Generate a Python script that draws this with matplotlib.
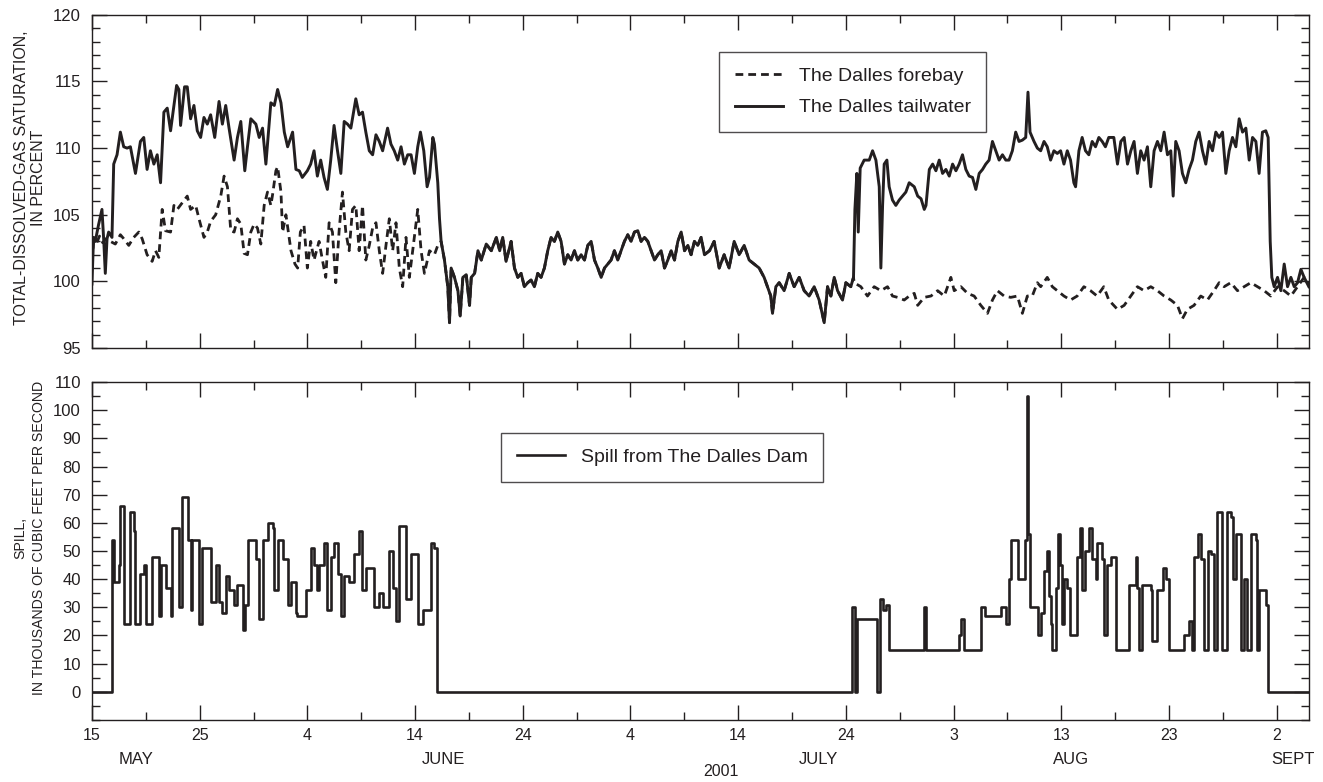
import matplotlib
matplotlib.use("Agg")
import matplotlib.pyplot as plt
import numpy as np

# time axis: days counted from 15 May 2001 00:00
# (day, percent) pairs
tailwater_early = [
    (0.0, 99.8), (0.15, 103.3), (0.31, 103.0), (0.6, 104.2), (0.93, 105.4), (1.1, 103.0), (1.24, 100.6),
    (1.4, 103.2), (1.55, 103.7), (1.86, 103.3), (2.02, 108.8), (2.33, 109.5), (2.64, 111.2), (2.95, 110.1),
    (3.26, 110.0), (3.57, 110.1), (4.04, 108.1), (4.5, 110.5), (4.81, 110.8), (5.12, 108.4), (5.43, 109.8),
    (5.75, 108.8), (6.06, 109.5), (6.37, 107.4), (6.68, 112.7), (6.99, 113.0), (7.3, 111.3), (7.86, 114.7),
    (8.07, 114.4), (8.23, 111.7), (8.6, 114.6), (8.85, 114.6), (9.16, 112.2), (9.47, 113.2), (9.78, 111.3),
    (10.09, 110.8), (10.4, 112.3), (10.71, 111.8), (11.02, 112.5), (11.4, 110.8), (11.8, 113.5), (12.11, 111.8),
    (12.42, 113.2), (12.73, 111.5), (13.2, 109.1), (13.51, 110.8), (13.82, 112.0), (14.19, 108.3), (14.44, 110.1),
    (14.75, 112.2), (15.22, 111.8), (15.53, 110.8), (15.84, 111.5), (16.15, 108.8), (16.61, 113.4), (16.93, 113.2),
    (17.24, 114.4), (17.55, 113.4), (17.86, 111.2), (18.17, 110.1), (18.63, 111.2), (18.94, 108.4), (19.25, 108.3),
    (19.53, 107.8), (20.0, 108.3), (20.31, 108.8), (20.62, 109.8), (20.93, 107.9), (21.24, 109.1), (21.55, 107.8),
    (21.86, 106.9), (22.17, 109.1), (22.48, 111.7), (22.8, 109.8), (23.11, 108.1), (23.42, 112.0), (23.73, 111.8),
    (24.04, 111.5), (24.5, 113.7), (24.81, 112.5), (25.12, 112.7), (25.43, 111.2), (25.75, 109.8), (26.06, 109.5),
    (26.37, 111.0), (26.68, 110.5), (26.99, 109.8), (27.45, 111.5), (27.76, 110.3), (28.07, 109.8), (28.39, 109.1),
    (28.7, 110.1), (29.01, 108.8), (29.32, 109.5), (29.63, 109.5), (29.94, 108.1), (30.25, 110.1), (30.5, 111.2),
    (30.81, 109.8), (31.12, 107.1), (31.34, 107.8), (31.65, 110.8), (31.8, 110.3), (32.11, 107.4), (32.27, 104.7),
]

# period where forebay and tailwater read the same
shared_mid = [
    (32.42, 103.0), (32.73, 101.6), (33.04, 99.6), (33.2, 96.9), (33.35, 101.0), (33.66, 100.3), (33.98, 99.3),
    (34.19, 97.4), (34.44, 100.3), (34.75, 100.5), (35.06, 98.2), (35.22, 100.3), (35.53, 100.6), (35.84, 102.3),
    (36.15, 101.6), (36.61, 102.8), (37.08, 102.3), (37.55, 103.3), (37.86, 102.3), (38.14, 103.3), (38.45, 101.5),
    (38.92, 103.0), (39.23, 101.0), (39.54, 100.3), (39.85, 100.6), (40.15, 99.6), (40.46, 99.9), (40.77, 100.1),
    (41.08, 99.6), (41.39, 100.6), (41.7, 100.3), (42.01, 101.0), (42.32, 102.3), (42.63, 103.3), (42.94, 103.0),
    (43.25, 103.7), (43.56, 103.0), (43.87, 101.3), (44.18, 102.0), (44.49, 101.6), (44.8, 102.3), (45.11, 101.6),
    (45.42, 102.0), (45.73, 101.6), (46.04, 102.7), (46.35, 103.0), (46.66, 101.6), (46.97, 101.0), (47.28, 100.3),
    (47.59, 101.0), (47.89, 101.3), (48.2, 101.6), (48.51, 102.3), (48.82, 101.6), (49.13, 102.3), (49.44, 103.0),
    (49.75, 103.5), (50.06, 103.0), (50.37, 103.7), (50.68, 103.8), (50.99, 103.0), (51.3, 103.3), (51.61, 103.0),
    (51.92, 102.3), (52.23, 101.6), (52.54, 102.0), (52.85, 102.3), (53.16, 101.0), (53.47, 101.6), (53.78, 102.3),
    (54.09, 101.6), (54.4, 103.0), (54.71, 103.7), (55.02, 102.3), (55.33, 102.7), (55.63, 102.0), (55.94, 103.0),
    (56.25, 102.7), (56.56, 103.3), (56.87, 102.0), (57.34, 102.3), (57.77, 103.0), (58.24, 101.0), (58.7, 102.0),
    (59.16, 101.0), (59.63, 103.0), (60.09, 102.0), (60.56, 102.7), (61.02, 101.6), (61.49, 101.3), (61.95, 101.0),
    (62.41, 100.3), (62.72, 99.6), (63.03, 98.9), (63.19, 97.6), (63.5, 99.6), (63.81, 99.9), (64.27, 99.3),
    (64.74, 100.6), (65.2, 99.6), (65.67, 100.3), (66.13, 99.3), (66.59, 98.9), (67.06, 99.6), (67.52, 98.6),
    (67.99, 96.9), (68.3, 99.6), (68.61, 98.9), (68.92, 100.3), (69.23, 99.3), (69.69, 98.6), (70.0, 99.9),
    (70.46, 99.6), (70.71, 100.3),
]

tailwater_late = [
    (70.84, 105.4), (71.02, 108.1), (71.15, 103.7), (71.33, 108.5), (71.7, 109.1), (72.17, 109.1), (72.48, 109.8),
    (72.79, 109.1), (73.1, 107.1), (73.25, 101.0), (73.41, 105.7), (73.56, 108.8), (73.81, 109.1), (74.02, 107.1),
    (74.33, 106.1), (74.64, 105.7), (74.95, 106.1), (75.26, 106.4), (75.57, 106.7), (75.88, 107.4), (76.35, 107.1),
    (76.67, 106.4), (76.98, 106.2), (77.28, 105.4), (77.44, 105.7), (77.75, 108.4), (78.06, 108.8), (78.36, 108.3),
    (78.67, 109.1), (78.98, 108.1), (79.29, 108.4), (79.6, 107.9), (79.91, 108.8), (80.22, 108.3), (80.52, 108.8),
    (80.83, 109.5), (81.14, 108.4), (81.45, 107.9), (81.76, 107.8), (82.07, 106.9), (82.38, 108.1), (82.69, 108.4),
    (82.99, 108.8), (83.3, 109.1), (83.61, 110.5), (83.92, 109.8), (84.23, 109.1), (84.54, 109.5), (84.85, 109.1),
    (85.15, 109.1), (85.46, 109.8), (85.77, 111.2), (86.08, 110.5), (86.39, 110.6), (86.7, 110.8), (86.91, 114.2),
    (87.1, 111.2), (87.47, 110.5), (87.78, 110.0), (88.09, 109.8), (88.4, 110.5), (88.7, 110.1), (89.01, 109.1),
    (89.32, 109.8), (89.63, 109.6), (89.94, 109.8), (90.25, 108.8), (90.56, 109.8), (90.86, 109.1), (91.17, 107.4),
    (91.33, 107.1), (91.64, 109.8), (91.94, 110.8), (92.25, 109.8), (92.56, 109.5), (92.87, 110.5), (93.18, 110.1),
    (93.49, 110.8), (93.8, 110.5), (94.1, 110.1), (94.41, 110.8), (94.88, 110.8), (95.22, 108.8), (95.53, 110.5),
    (95.84, 110.8), (96.15, 108.8), (96.46, 109.8), (96.76, 110.5), (97.07, 108.1), (97.38, 109.8), (97.69, 109.1),
    (98.0, 110.1), (98.31, 107.1), (98.62, 109.8), (98.93, 110.5), (99.24, 109.8), (99.55, 111.2), (99.86, 109.5),
    (100.17, 109.8), (100.39, 106.4), (100.63, 110.5), (100.94, 109.8), (101.25, 108.1), (101.56, 107.4),
    (101.87, 108.4), (102.18, 109.1), (102.49, 110.5), (102.8, 111.2), (103.11, 109.8), (103.42, 108.8),
    (103.73, 110.5), (104.04, 109.8), (104.35, 111.2), (104.66, 110.8), (104.97, 111.2), (105.28, 108.1),
    (105.59, 109.8), (105.9, 110.8), (106.21, 110.1), (106.52, 112.2), (106.83, 111.2), (107.14, 111.5),
    (107.45, 109.1), (107.76, 110.8), (108.07, 110.5), (108.37, 108.1), (108.68, 111.2), (108.99, 111.3),
    (109.21, 110.8), (109.4, 103.0), (109.55, 100.3), (109.77, 99.6), (110.08, 100.3), (110.39, 99.3),
    (110.7, 101.3), (111.01, 99.6), (111.32, 100.3), (111.63, 99.6), (111.94, 99.9), (112.25, 100.9),
    (112.55, 100.3), (112.99, 99.6),
]

forebay_early = [
    (0.0, 101.5), (0.15, 103.0), (0.4, 102.8), (0.7, 103.4), (1.0, 102.9), (1.3, 103.2), (1.71, 103.0),
    (2.17, 102.8), (2.64, 103.5), (2.95, 103.2), (3.42, 102.7), (3.88, 103.3), (4.35, 103.7), (4.66, 103.2),
    (5.12, 102.0), (5.59, 101.5), (5.9, 102.3), (6.21, 101.8), (6.52, 105.4), (6.83, 103.8), (7.3, 103.7),
    (7.61, 105.7), (7.92, 105.4), (8.39, 105.9), (8.85, 106.4), (9.16, 105.4), (9.63, 105.7), (9.94, 104.7),
    (10.4, 103.3), (10.71, 103.7), (11.02, 104.5), (11.49, 105.0), (11.96, 106.4), (12.27, 107.9), (12.58, 107.1),
    (12.89, 103.8), (13.2, 103.7), (13.51, 104.7), (13.82, 104.3), (14.13, 102.1), (14.44, 102.0), (14.75, 103.7),
    (15.06, 104.3), (15.37, 104.0), (15.68, 102.8), (15.99, 105.7), (16.3, 106.7), (16.61, 105.7), (16.77, 106.5),
    (17.08, 108.3), (17.24, 108.6), (17.55, 106.7), (17.7, 103.7), (18.01, 105.0), (18.48, 102.3), (18.85, 101.3),
    (19.1, 101.0), (19.35, 103.7), (19.69, 104.2), (20.0, 101.0), (20.31, 103.0), (20.62, 101.6), (21.09, 103.0),
    (21.4, 101.6), (21.71, 100.3), (22.02, 104.4), (22.33, 103.7), (22.64, 99.9), (22.95, 103.8), (23.26, 106.7),
    (23.57, 103.7), (23.88, 102.3), (24.19, 105.4), (24.5, 105.7), (24.81, 102.3), (25.12, 105.7), (25.43, 101.6),
    (25.75, 102.7), (26.06, 104.0), (26.37, 104.4), (26.68, 102.3), (26.99, 100.6), (27.3, 102.7), (27.61, 104.7),
    (27.92, 102.3), (28.23, 104.4), (28.54, 101.0), (28.85, 99.6), (29.16, 103.3), (29.47, 100.3), (29.78, 102.3),
    (30.25, 105.4), (30.56, 102.3), (30.87, 100.6), (31.34, 102.3), (31.8, 102.0), (32.11, 102.7),
]

forebay_late = [
    (70.77, 99.9), (71.39, 99.6), (72.01, 98.9), (72.63, 99.6), (73.25, 99.3), (73.87, 99.6), (74.33, 98.9),
    (74.8, 98.8), (75.42, 98.6), (75.88, 98.9), (76.35, 99.1), (76.67, 98.2), (77.28, 98.8), (77.9, 98.9),
    (78.52, 99.3), (79.14, 98.9), (79.75, 100.3), (80.06, 99.3), (80.68, 99.6), (81.3, 99.1), (81.91, 98.9),
    (82.53, 98.2), (83.15, 97.6), (83.61, 98.6), (84.07, 99.3), (84.69, 98.9), (85.31, 98.8), (85.93, 98.9),
    (86.39, 97.6), (86.85, 98.9), (87.31, 98.9), (87.78, 99.9), (88.09, 99.6), (88.7, 100.3), (89.17, 99.6),
    (89.63, 99.3), (90.25, 98.9), (90.86, 98.6), (91.48, 98.9), (92.1, 99.6), (92.72, 99.3), (93.33, 98.9),
    (93.95, 99.6), (94.41, 98.6), (95.22, 97.9), (95.84, 98.2), (96.46, 98.9), (97.07, 99.6), (97.69, 99.3),
    (98.31, 99.6), (98.93, 99.3), (99.55, 98.9), (100.17, 98.6), (100.79, 98.2), (101.25, 97.2), (101.71, 97.9),
    (102.33, 98.2), (102.95, 98.9), (103.57, 98.6), (104.18, 99.3), (104.66, 99.9), (105.12, 99.6), (105.74, 99.9),
    (106.36, 99.3), (106.98, 99.6), (107.6, 99.9), (108.22, 99.6), (108.84, 99.3), (109.46, 98.9), (110.08, 99.6),
    (110.7, 99.3), (111.32, 98.9), (111.94, 99.6), (112.55, 100.3), (112.99, 99.8),
]

# spill steps: (start day, thousand ft3/s)
spill_steps = [
    (0.0, 0), (1.86, 54), (2.02, 39), (2.48, 45), (2.64, 66), (2.95, 24), (3.51, 64), (3.88, 57), (4.04, 24),
    (4.5, 42), (4.81, 45), (5.06, 24), (5.59, 48), (6.21, 27), (6.37, 45), (6.83, 37), (7.3, 27), (7.45, 58),
    (8.07, 30), (8.39, 69), (8.91, 54), (9.16, 29), (9.32, 54), (9.94, 24), (10.25, 51), (11.02, 32), (11.49, 45),
    (11.8, 32), (12.11, 28), (12.42, 41), (12.73, 36), (13.2, 31), (13.51, 38), (13.98, 22), (14.19, 31),
    (14.5, 54), (15.22, 47), (15.53, 26), (15.84, 54), (16.3, 60), (16.77, 58), (16.93, 36), (17.24, 54),
    (17.7, 47), (18.17, 31), (18.48, 39), (18.94, 28), (19.07, 27), (19.84, 36), (20.31, 51), (20.62, 45),
    (20.93, 36), (21.09, 45), (21.55, 53), (21.86, 29), (22.17, 48), (22.48, 53), (22.8, 42), (23.11, 27),
    (23.42, 41), (23.88, 39), (24.35, 49), (24.81, 57), (25.12, 36), (25.43, 44), (26.21, 30), (26.68, 35),
    (26.99, 30), (27.61, 50), (27.92, 37), (28.23, 25), (28.54, 59), (29.16, 33), (29.63, 49), (30.25, 24),
    (30.71, 29), (31.49, 53), (31.8, 51), (32.0, 0), (70.56, 30), (70.84, 0), (71.02, 26), (72.88, 0),
    (73.19, 33), (73.41, 29), (73.72, 31), (74.02, 15), (77.22, 30), (77.41, 15), (80.52, 20), (80.68, 26),
    (80.93, 15), (82.53, 30), (82.93, 27), (84.38, 30), (84.85, 24), (85.15, 40), (85.37, 54), (85.99, 40),
    (86.6, 54), (86.79, 105), (86.94, 56), (87.1, 30), (87.84, 20), (88.09, 28), (88.4, 43), (88.64, 50),
    (88.83, 34), (89.01, 24), (89.17, 15), (89.48, 37), (89.69, 56), (89.88, 45), (90.06, 24), (90.25, 40),
    (90.56, 37), (90.8, 20), (91.42, 48), (91.73, 58), (91.94, 36), (92.25, 50), (92.56, 58), (92.87, 47),
    (93.18, 40), (93.33, 53), (93.8, 47), (94.01, 20), (94.26, 45), (94.6, 48), (95.06, 15), (96.3, 38),
    (96.92, 48), (97.07, 37), (97.23, 15), (97.54, 38), (98.31, 36), (98.47, 18), (98.93, 36), (99.4, 44),
    (99.71, 40), (100.02, 15), (101.41, 20), (101.87, 25), (102.18, 15), (102.34, 48), (102.65, 56),
    (102.96, 47), (103.27, 15), (103.58, 50), (103.89, 49), (104.2, 15), (104.5, 64), (104.97, 15),
    (105.43, 64), (105.74, 62), (105.9, 40), (106.21, 56), (106.67, 15), (106.98, 40), (107.29, 15),
    (107.6, 56), (108.07, 54), (108.22, 15), (108.37, 36), (108.99, 31), (109.15, 0), (113.0, 0),
]

tick_days = [0, 10, 20, 30, 40, 50, 60, 70, 80, 90, 100, 110]
tick_labels = ["15", "25", "4", "14", "24", "4", "14", "24", "3", "13", "23", "2"]
month_names = ["MAY", "JUNE", "JULY", "AUG", "SEPT"]
month_days = [4.05, 32.6, 67.5, 90.9, 111.5]

FONT = ["Liberation Sans", "DejaVu Sans"]
INK = "#231f20"

plt.rcParams["font.family"] = FONT
plt.rcParams["axes.linewidth"] = 1.0

tw = np.array(tailwater_early + shared_mid + tailwater_late)
fb = np.array(forebay_early + shared_mid + forebay_late)
sp = np.array(spill_steps)

fig = plt.figure(figsize=(13.23, 7.82), dpi=100)
ax1 = fig.add_axes([0.0695, 0.555, 0.9199, 0.426])
ax2 = fig.add_axes([0.0695, 0.0793, 0.9199, 0.4322])

fb_line, = ax1.plot(fb[:, 0], fb[:, 1], color=INK, lw=2.0, dashes=(2.8, 1.8), label="The Dalles forebay")
tw_line, = ax1.plot(tw[:, 0], tw[:, 1], color=INK, lw=2.1, label="The Dalles tailwater")
sp_line, = ax2.step(sp[:, 0], sp[:, 1], where="post", color=INK, lw=1.9, label="Spill from The Dalles Dam")

ax1.set_ylim(95, 120)
ax1.set_yticks(np.arange(95, 121, 5))
ax1.set_yticks(np.arange(95, 121, 1), minor=True)
ax2.set_ylim(-10, 110)
ax2.set_yticks(np.arange(0, 111, 10))
ax2.set_yticks(np.arange(-10, 111, 5), minor=True)

for ax in (ax1, ax2):
    ax.set_xlim(0, 113)
    ax.set_xticks(tick_days)
    ax.set_xticks(np.arange(5, 113, 10), minor=True)
    for sp_ in ax.spines.values():
        sp_.set_color(INK)
    ax.tick_params(which="both", direction="in", top=True, right=True, colors=INK, width=1.0, labelsize=12)
    ax.tick_params(which="major", length=11)
    ax.tick_params(which="minor", length=6)
    ax.tick_params(axis="y", pad=8)

ax1.set_xticklabels([])
ax2.set_xticklabels(tick_labels)
ax2.tick_params(axis="x", pad=6, labelsize=11.5)

month_tf = ax2.get_xaxis_transform().__class__(ax2.transData, fig.transFigure)
for name, d in zip(month_names, month_days):
    ax2.text(d, 0.029, name, transform=month_tf, ha="center", va="center", fontsize=12, color=INK)
fig.text(721 / 1323, 0.013, "2001", ha="center", va="center", fontsize=11.5, color=INK)

fig.text(30 / 1323, 1 - 178 / 782, "TOTAL-DISSOLVED-GAS SATURATION,\nIN PERCENT", rotation=90,
         ha="center", va="center", fontsize=11.5, color=INK, linespacing=1.2)
fig.text(30 / 1323, 1 - 538 / 782, "SPILL,\nIN THOUSANDS OF CUBIC FEET PER SECOND", rotation=90,
         ha="center", va="center", fontsize=10.2, color=INK, linespacing=1.45)

leg_kw = dict(frameon=True, fancybox=False, handlelength=2.5, handletextpad=0.8, borderaxespad=0,
              bbox_transform=fig.transFigure, prop={"family": FONT, "size": 14}, borderpad=0.8,
              labelspacing=0.7)
leg1 = ax1.legend(handles=[fb_line, tw_line], loc="upper left", bbox_to_anchor=(719 / 1323, 1 - 52 / 782), **leg_kw)
leg2 = ax2.legend(handles=[sp_line], loc="upper left", bbox_to_anchor=(501 / 1323, 1 - 433 / 782), **leg_kw)
for leg in (leg1, leg2):
    leg.get_frame().set_edgecolor(INK)
    leg.get_frame().set_linewidth(1.0)
    for t in leg.get_texts():
        t.set_color(INK)

fig.savefig("out.png", dpi=100)
